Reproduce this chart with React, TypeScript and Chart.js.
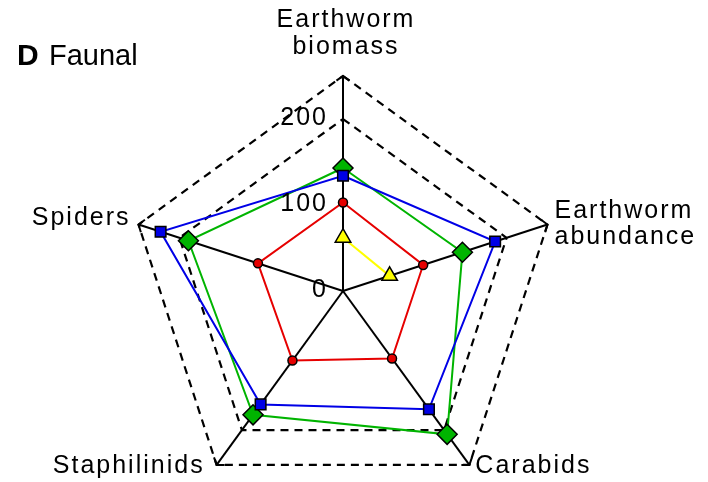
import React, { useEffect, useRef } from "react";
import { Chart, registerables } from "chart.js";

Chart.register(...registerables);

const categories = ["Earthworm biomass", "Earthworm abundance", "Carabids", "Staphilinids", "Spiders"];
const categoryLines = [["Earthworm", "biomass"], ["Earthworm", "abundance"], ["Carabids"], ["Staphilinids"], ["Spiders"]];
const redValues = [103, 98, 97, 100, 104];
const greenValues = [143, 146, 206, 178, 189];
const blueValues = [134, 186, 170, 163, 223];
const yellowValues = [62, 57, null, null, null];
const tickLabels = [0, 100, 200];
const dashedLevels = [200, 250];
const axisMax = 250;
const axisStep = 50;

const FONT = "'Liberation Sans', Arial, sans-serif";

// label placement relative to each axis tip
const labelPlacement = [
  { align: "center", dx: 3, dy: [-49, -22] },
  { align: "left", dx: 7, dy: [-7, 19] },
  { align: "left", dx: 6, dy: [8] },
  { align: "right", dx: -12, dy: [8] },
  { align: "right", dx: -8, dy: [0] },
];

const overlayPlugin = {
  id: "overlay",
  afterDraw(chart: any) {
    const scale = chart.scales.r;
    const ctx = chart.ctx as CanvasRenderingContext2D;
    ctx.save();
    // arrow heads
    ctx.strokeStyle = "#000";
    ctx.lineWidth = 2;
    ctx.setLineDash([]);
    const L = 8;
    const a = (55 * Math.PI) / 180;
    for (let i = 0; i < categories.length; i++) {
      const tip = scale.getPointPosition(i, scale.drawingArea);
      const ang = tip.angle;
      ctx.beginPath();
      ctx.moveTo(tip.x - L * Math.cos(ang + a), tip.y - L * Math.sin(ang + a));
      ctx.lineTo(tip.x, tip.y);
      ctx.lineTo(tip.x - L * Math.cos(ang - a), tip.y - L * Math.sin(ang - a));
      ctx.stroke();
    }
    // category labels
    ctx.fillStyle = "#000";
    ctx.font = `25px ${FONT}`;
    (ctx as any).letterSpacing = "2px";
    ctx.textBaseline = "alphabetic";
    for (let i = 0; i < categories.length; i++) {
      const tip = scale.getPointPosition(i, scale.drawingArea);
      const p = labelPlacement[i];
      ctx.textAlign = p.align as CanvasTextAlign;
      categoryLines[i].forEach((line, j) => {
        ctx.fillText(line, tip.x + p.dx, tip.y + p.dy[j]);
      });
    }
    // tick labels
    ctx.textAlign = "right";
    for (const v of tickLabels) {
      const d = scale.getDistanceFromCenterForValue(v);
      ctx.fillText(String(v), scale.xCenter - 15, scale.yCenter - d + 6);
    }
    // title
    (ctx as any).letterSpacing = "0px";
    ctx.textAlign = "left";
    ctx.font = `bold 30px ${FONT}`;
    ctx.fillText("D", 17, 65);
    ctx.font = `29px ${FONT}`;
    ctx.fillText("Faunal", 49, 65);
    ctx.restore();
  },
};

function ds(label: string, data: (number | null)[], color: string, style: string, radius: number) {
  return {
    label,
    data,
    borderColor: color,
    backgroundColor: "transparent",
    fill: false,
    borderWidth: 2,
    pointStyle: style,
    pointRadius: radius,
    pointBackgroundColor: color,
    pointBorderColor: "#000",
    pointBorderWidth: 1.5,
    spanGaps: false,
  };
}

export default function App() {
  const ref = useRef<HTMLCanvasElement>(null);
  useEffect(() => {
    if (!ref.current) return;
    const chart = new Chart(ref.current, {
      type: "radar",
      data: {
        labels: categories,
        datasets: [
          ds("yellow", yellowValues, "#ffff00", "triangle", 9),
          ds("blue", blueValues, "#0000e6", "rect", 7.5),
          ds("green", greenValues, "#00b400", "rectRot", 10),
          ds("red", redValues, "#e60000", "circle", 4.5),
        ] as any,
      },
      options: {
        animation: false,
        responsive: false,
        layout: { padding: { top: 76, bottom: 34, left: 128, right: 150 } },
        plugins: { legend: { display: false }, tooltip: { enabled: false }, title: { display: false } },
        elements: { line: { tension: 0 } },
        scales: {
          r: {
            min: 0,
            max: axisMax,
            beginAtZero: true,
            ticks: { display: false, stepSize: axisStep },
            pointLabels: { display: false },
            angleLines: { display: true, color: "#000", lineWidth: 2, borderDash: [] },
            grid: {
              circular: false,
              color: (c: any) => (dashedLevels.includes(c.tick?.value) ? "#000" : "rgba(0,0,0,0)"),
              lineWidth: 2.2,
            } as any,
            border: { dash: [8, 6] } as any,
          },
        },
      },
      plugins: [overlayPlugin],
    });
    return () => chart.destroy();
  }, []);
  return (
    <div style={{ position: "fixed", left: 0, top: 0, width: 708, height: 482, overflow: "hidden", background: "#fff" }}>
      <canvas ref={ref} width={708} height={540} style={{ width: 708, height: 540, display: "block" }} />
    </div>
  );
}
